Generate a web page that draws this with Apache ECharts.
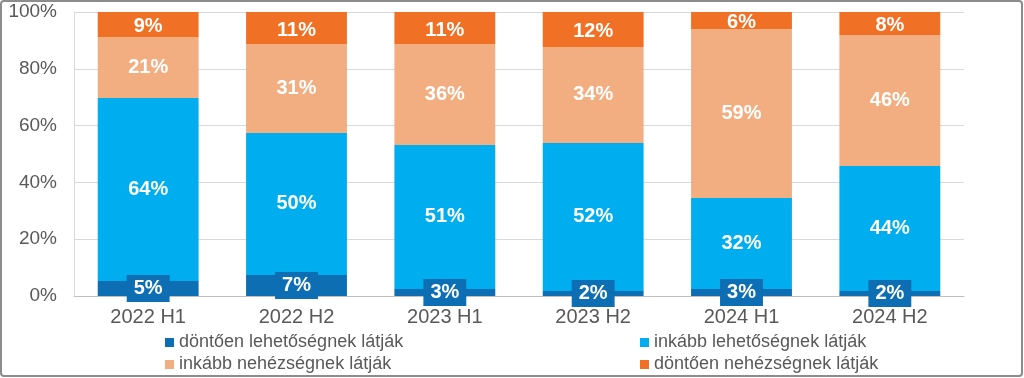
<!DOCTYPE html>
<html>
<head>
<meta charset="utf-8">
<script src="https://cdn.jsdelivr.net/npm/echarts@6/dist/echarts.min.js"></script>
<style>
    html, body { margin: 0; padding: 0; background: #fff; }
    #chart { width: 1024px; height: 378px; }
</style>
</head>
<body>
<div id="chart"></div>
<script>
// categories and values (percent shares)
const categories = ["2022 H1", "2022 H2", "2023 H1", "2023 H2", "2024 H1", "2024 H2"];
const seriesNames = [
    "döntően lehetőségnek látják",
    "inkább lehetőségnek látják",
    "inkább nehézségnek látják",
    "döntően nehézségnek látják"
];
const donto_lehet = [5.3, 7.4, 2.5, 1.8, 2.5, 1.8];
const inkabb_lehet = [64.4, 50.0, 50.7, 52.1, 32.0, 44.0];
const inkabb_nehez = [21.5, 31.3, 35.5, 33.8, 59.5, 46.1];
const donto_nehez = [8.8, 11.3, 11.3, 12.3, 6.0, 8.1];
const labelsShown = [
    [5, 7, 3, 2, 3, 2],
    [64, 50, 51, 52, 32, 44],
    [21, 31, 36, 34, 59, 46],
    [9, 11, 11, 12, 6, 8]
];
const yTicks = [0, 20, 40, 60, 80, 100];

const colors = ["#0D6EB3", "#00AEEF", "#F2AE80", "#F07125"];
const dataSets = [donto_lehet, inkabb_lehet, inkabb_nehez, donto_nehez];

let myChart = echarts.init(document.getElementById("chart"));

let series = dataSets.map(function (d, i) {
    let s = {
        name: seriesNames[i],
        type: "bar",
        stack: "total",
        barWidth: "68%",
        itemStyle: { color: colors[i] },
        data: d,
        label: {
            show: true,
            position: "inside",
            color: "#fff",
            fontFamily: "Liberation Sans",
            fontWeight: "bold",
            fontSize: 20,
            formatter: function (p) {
                return labelsShown[i][p.dataIndex] + "%";
            }
        }
    };
    if (i === 0) {
        // small dark-blue boxes sitting on the axis
        s.label.backgroundColor = "#0D6EB3";
        s.label.padding = [4, 7, 3, 7];
        s.z = 5;
        s.zlevel = 1;
    }
    if (i === 3) {
        s.label.offset = [0, 2];
    }
    return s;
});

let legendText = { color: "#595959", fontFamily: "Liberation Sans", fontSize: 18, lineHeight: 19 };

let option = {
    animation: false,
    backgroundColor: "#fff",
    grid: { left: 74, right: 60, top: 12, bottom: 82 },
    legend: [
        {
            data: [seriesNames[0], seriesNames[2]],
            orient: "vertical",
            left: 165, top: 333,
            padding: 0,
            itemWidth: 9, itemHeight: 9, itemGap: 3,
            icon: "rect",
            textStyle: legendText
        },
        {
            data: [seriesNames[1], seriesNames[3]],
            orient: "vertical",
            left: 640, top: 333,
            padding: 0,
            itemWidth: 9, itemHeight: 9, itemGap: 3,
            icon: "rect",
            textStyle: legendText
        }
    ],
    xAxis: {
        type: "category",
        data: categories,
        axisTick: { show: false },
        axisLine: { lineStyle: { color: "#bfbfbf" } },
        axisLabel: { color: "#595959", fontFamily: "Liberation Sans", fontSize: 20, margin: 11 }
    },
    yAxis: {
        type: "value",
        min: 0, max: 100, interval: 20,
        axisLine: { show: true, lineStyle: { color: "#d9d9d9" } },
        axisTick: { show: false },
        splitLine: { lineStyle: { color: "#d9d9d9" } },
        axisLabel: {
            color: "#595959", fontFamily: "Liberation Sans", fontSize: 19, margin: 17,
            formatter: function (v) { return yTicks.indexOf(v) >= 0 ? v + "%" : ""; }
        }
    },
    graphic: [
        {
            type: "rect",
            shape: { x: 1, y: 1, width: 1021, height: 375, r: 3 },
            style: { fill: "none", stroke: "#8c8c8c", lineWidth: 2 },
            silent: true
        }
    ],
    series: series
};

myChart.setOption(option);
window.addEventListener("resize", function () {
    myChart.resize();
});
</script>
</body>
</html>
